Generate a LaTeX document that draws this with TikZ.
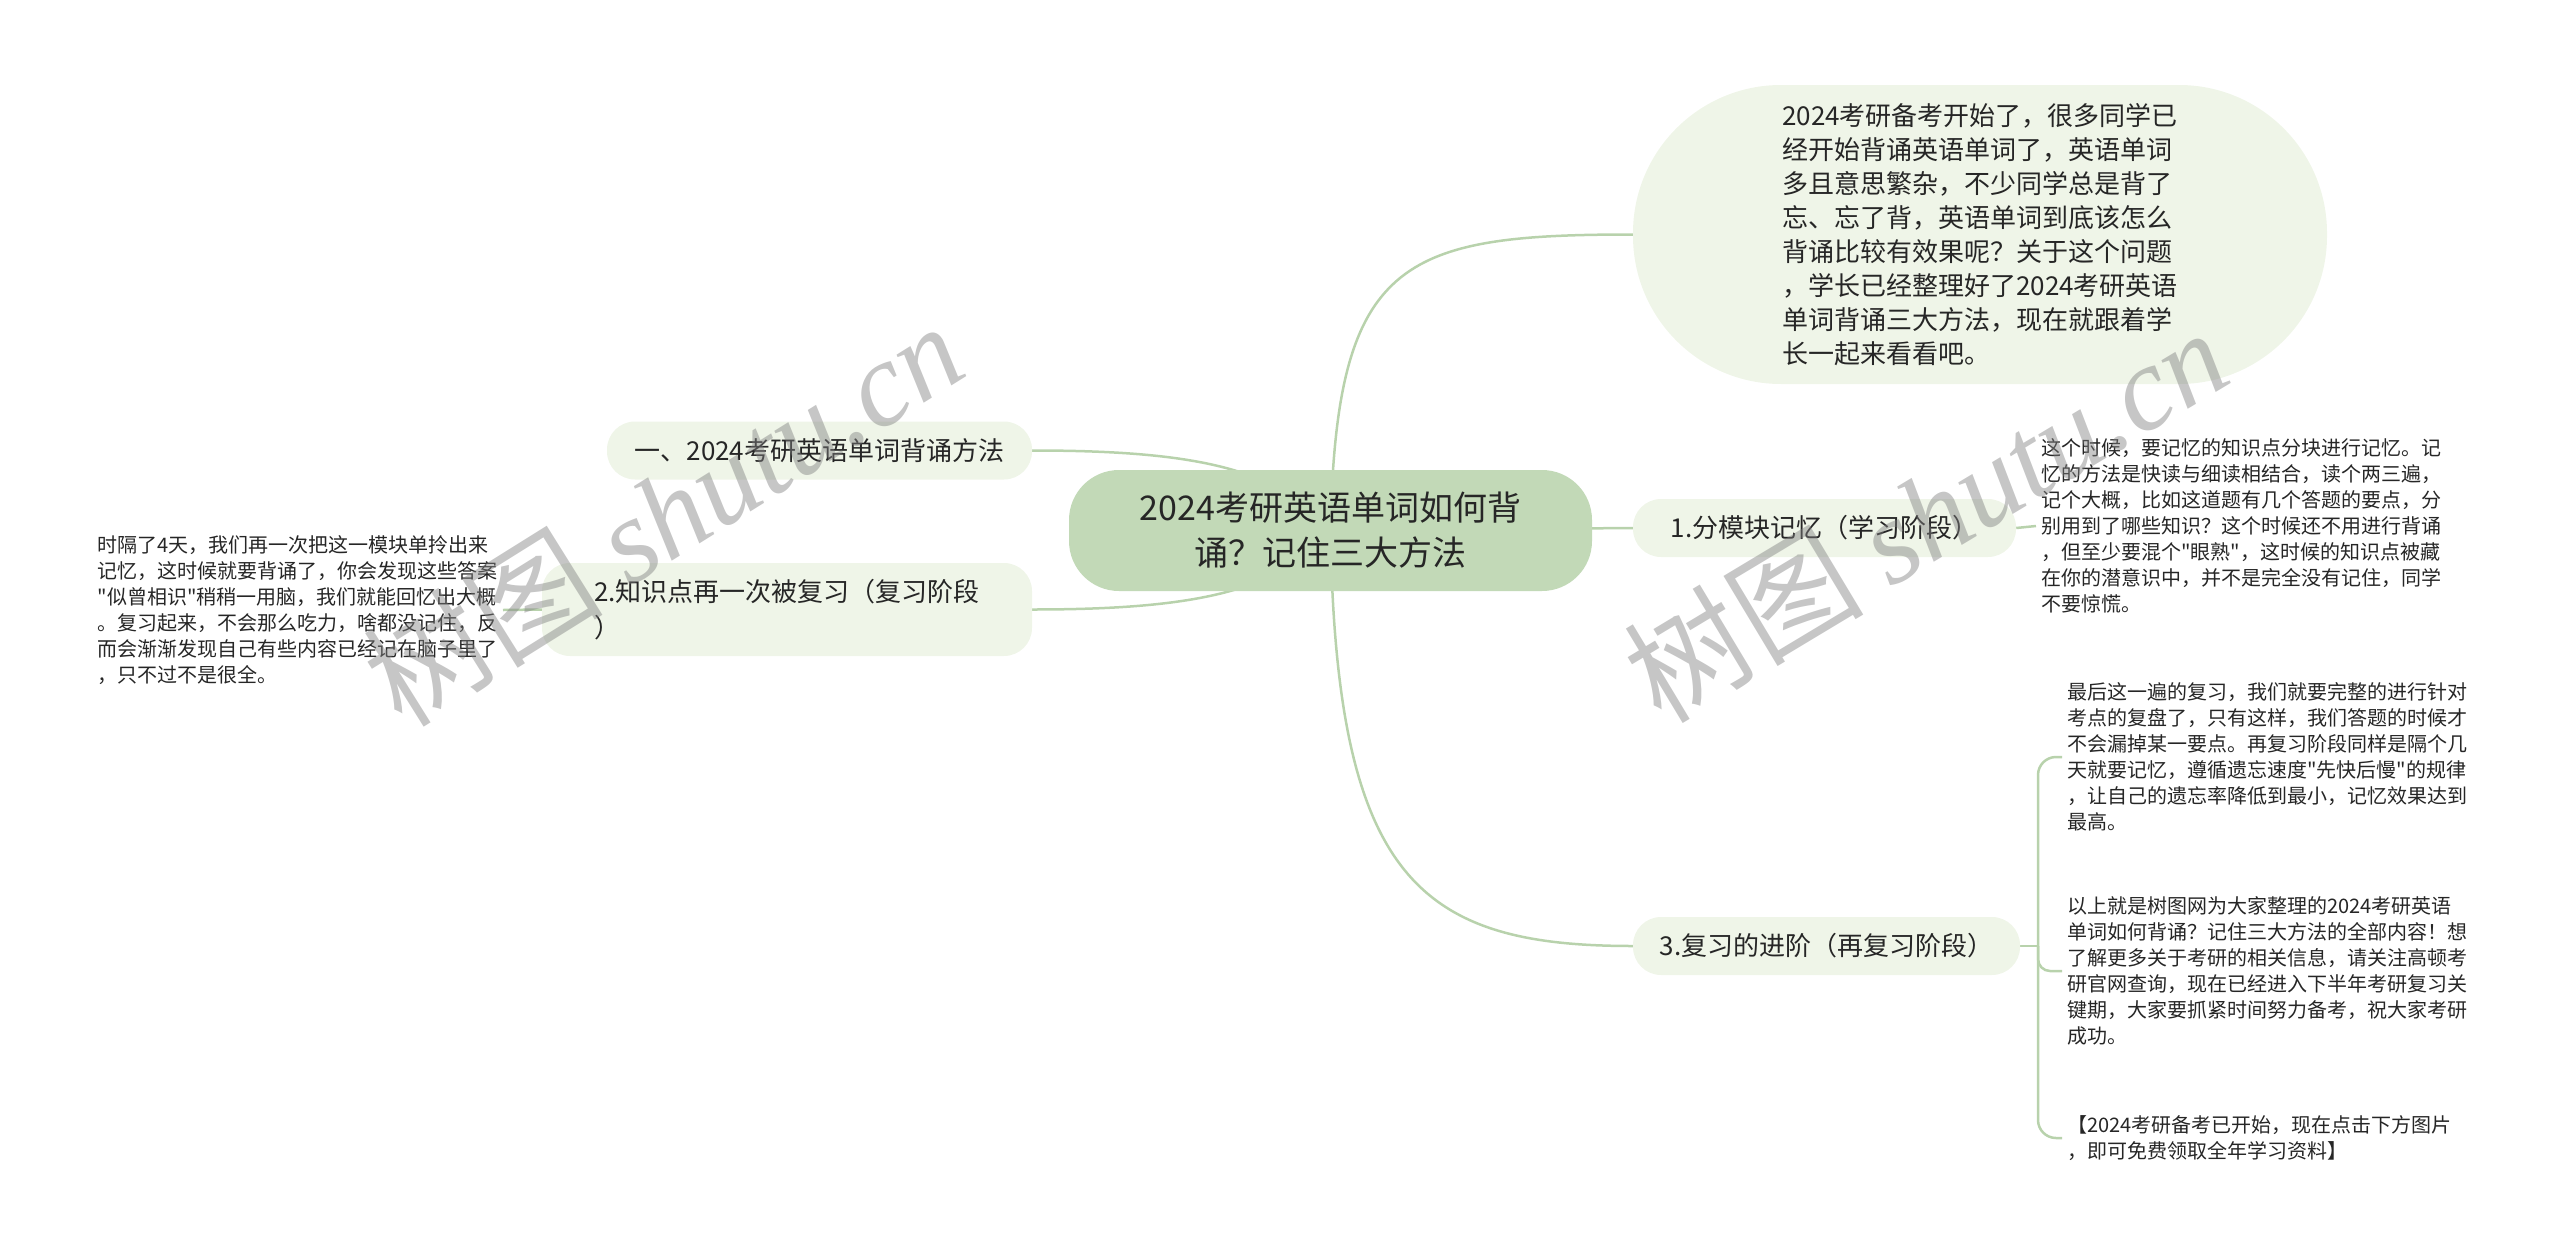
\documentclass[tikz,border=0pt]{standalone}
\usepackage{fontspec}
\setmainfont{Noto Sans CJK SC}[Ligatures=TeXOff]
\newfontfamily\wmlatin{Liberation Serif}
\usepackage{xcolor}
\usepackage{tikz}
\usetikzlibrary{backgrounds}

\definecolor{rootfill}{RGB}{194,217,183}
\definecolor{subfill}{RGB}{239,245,232}
\definecolor{linkgreen}{RGB}{184,210,172}
\definecolor{txtgray}{RGB}{38,38,38}

\tikzset{
    rootbox/.style={fill=rootfill, rounded corners=50pt, minimum width=523pt, minimum height=121pt,
        align=center, text=txtgray, inner sep=0pt, font=\fontsize{34}{45}\selectfont},
    introbox/.style={fill=subfill, rounded corners=148pt, minimum width=694pt, minimum height=299pt,
        align=left, text=txtgray, inner sep=0pt, font=\fontsize{26}{34}\selectfont},
    branchbox/.style={fill=subfill, rounded corners=28pt, minimum height=58pt,
        align=left, text=txtgray, inner sep=0pt, font=\fontsize{26}{36}\selectfont},
    leaftext/.style={align=left, text=txtgray, inner sep=5pt, font=\fontsize{20}{26}\selectfont},
    link/.style={draw=linkgreen, line width=2.5pt},
    watermark/.style={text=gray, opacity=0.45, inner sep=0pt, font=\fontsize{120}{120}\selectfont}
}

\begin{document}
\begin{tikzpicture}[x=1pt,y=1pt,yscale=-1,xscale=1]
    \useasboundingbox (0,0) rectangle (2560,1258);

    % Root Node
    \node [rootbox] (root) at (1330.5,530.5) {2024考研英语单词如何背\\诵？记住三大方法};
    % Intro Node
    \node [introbox] (intro) at (1980,234.5) {2024考研备考开始了，很多同学已\\经开始背诵英语单词了，英语单词\\多且意思繁杂，不少同学总是背了\\忘、忘了背，英语单词到底该怎么\\背诵比较有效果呢？关于这个问题\\，学长已经整理好了2024考研英语\\单词背诵三大方法，现在就跟着学\\长一起来看看吧。};
    % Branch Nodes
    \node [branchbox, minimum width=425pt] (methods) at (819.5,450.5) {一、2024考研英语单词背诵方法};
    \node [branchbox, minimum width=490pt, minimum height=93pt] (review) at (787,609.5) {2.知识点再一次被复习（复习阶段\\）};
    \node [branchbox, minimum width=383pt] (chunk) at (1824.5,528) {1.分模块记忆（学习阶段）};
    \node [branchbox, minimum width=387pt] (advance) at (1826.5,946) {3.复习的进阶（再复习阶段）};

    % Leaf Text
    \node [leaftext, anchor=west] (chunknote) at (2036,526) {这个时候，要记忆的知识点分块进行记忆。记\\忆的方法是快读与细读相结合，读个两三遍，\\记个大概，比如这道题有几个答题的要点，分\\别用到了哪些知识？这个时候还不用进行背诵\\，但至少要混个"眼熟"，这时候的知识点被藏\\在你的潜意识中，并不是完全没有记住，同学\\不要惊慌。};
    % Leaf Text
    \node [leaftext, anchor=east] (reviewnote) at (503,610) {时隔了4天，我们再一次把这一模块单拎出来\\记忆，这时候就要背诵了，你会发现这些答案\\"似曾相识"稍稍一用脑，我们就能回忆出大概\\。复习起来，不会那么吃力，啥都没记住，反\\而会渐渐发现自己有些内容已经记在脑子里了\\，只不过不是很全。};
    % Leaf Text
    \node [leaftext, anchor=west] (finalnote) at (2062,757) {最后这一遍的复习，我们就要完整的进行针对\\考点的复盘了，只有这样，我们答题的时候才\\不会漏掉某一要点。再复习阶段同样是隔个几\\天就要记忆，遵循遗忘速度"先快后慢"的规律\\，让自己的遗忘率降低到最小，记忆效果达到\\最高。};
    % Leaf Text
    \node [leaftext, anchor=west] (closingnote) at (2062,971) {以上就是树图网为大家整理的2024考研英语\\单词如何背诵？记住三大方法的全部内容！想\\了解更多关于考研的相关信息，请关注高顿考\\研官网查询，现在已经进入下半年考研复习关\\键期，大家要抓紧时间努力备考，祝大家考研\\成功。};
    % Leaf Text
    \node [leaftext, anchor=west] (promonote) at (2062,1138) {【2024考研备考已开始，现在点击下方图片\\，即可免费领取全年学习资料】};
    \coordinate (fork) at (2038,946);

    % Connectors
    \begin{scope}[on background layer]
        \draw [link] (root.center) .. controls (1336,260) and (1400,234.5) .. (intro.west);
        \draw [link] (root.center) -- (chunk.west);
        \draw [link] (root.center) .. controls (1336,880) and (1420,946) .. (advance.west);
        \draw [link] (methods.east) .. controls (1200,450.5) and (1280,470) .. (root.center);
        \draw [link] (review.east) .. controls (1200,609.5) and (1280,590) .. (root.center);
        \draw [link] (chunk.east) -- (chunknote.west);
        \draw [link] (review.west) -- (reviewnote.east);
        \draw [link] (advance.east) -- (fork);
        \draw [link, rounded corners=18pt] (fork) |- (finalnote.west);
        \draw [link, rounded corners=12pt] (fork) |- (closingnote.west);
        \draw [link, rounded corners=18pt] (fork) |- (promonote.west);
    \end{scope}

    % Watermarks
    \node [watermark, rotate=32] (wmleft) at (663,513) {树图 {\wmlatin\itshape shutu.cn}};
    \node [watermark, rotate=31] (wmright) at (1925,514) {树图 {\wmlatin\itshape shutu.cn}};
\end{tikzpicture}
\end{document}
